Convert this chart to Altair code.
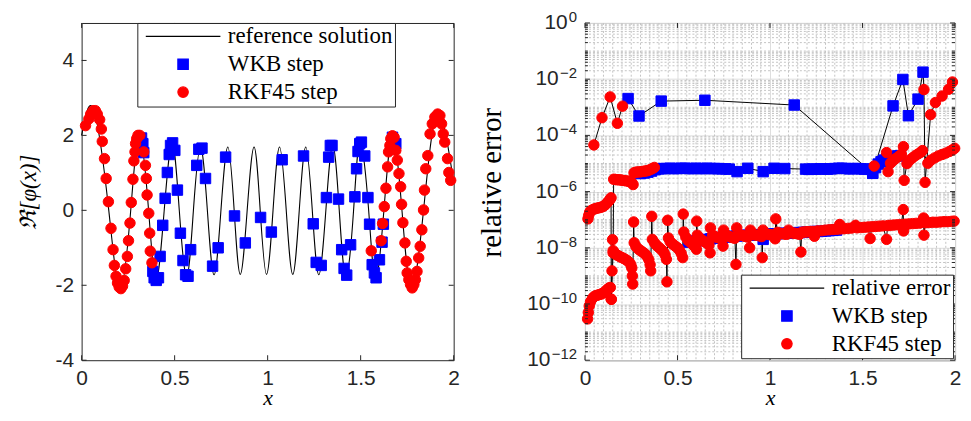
import altair as alt
import pandas as pd

# ---------------- left panel data ----------------
# reference solution: extrema / zero crossings of the curve
ref_x = [0.0, 0.065, 0.146, 0.208, 0.264, 0.311, 0.36, 0.401, 0.444, 0.487,
         0.525, 0.565, 0.601, 0.639, 0.676, 0.712, 0.749, 0.786, 0.82, 0.853,
         0.89, 0.927, 0.96, 0.994, 1.029, 1.064, 1.1, 1.135, 1.17, 1.205,
         1.24, 1.275, 1.313, 1.35, 1.385, 1.421, 1.462, 1.497, 1.543, 1.58,
         1.625, 1.671, 1.722, 1.773, 1.838, 1.912, 2.0]
ref_y = [2.0, 2.68, 0, -2.11, 0, 2.0, 0, -1.85, 0, 1.8,
         0, -1.76, 0, 1.68, 0, -1.72, 0, 1.69, 0, -1.71,
         0, 1.69, 0, -1.71, 0, 1.69, 0, -1.71, 0, 1.69,
         0, -1.72, 0, 1.73, 0, -1.76, 0, 1.82, 0, -1.85,
         0, 1.99, 0, -2.08, 0, 2.58, 0.75]

wkb_x = [0.322, 0.329, 0.334, 0.383, 0.39, 0.401, 0.413, 0.422, 0.436, 0.449,
         0.461, 0.471, 0.478, 0.489, 0.501, 0.515, 0.531, 0.545, 0.559, 0.572,
         0.586, 0.619, 0.63, 0.647, 0.666, 0.704, 0.734, 0.774, 0.822, 0.88,
         0.962, 1.02, 1.078, 1.193, 1.245, 1.261, 1.288, 1.316, 1.328, 1.337,
         1.346, 1.381, 1.398, 1.411, 1.425, 1.446, 1.469, 1.478, 1.486, 1.495,
         1.504, 1.522, 1.539, 1.548, 1.562, 1.574, 1.583, 1.601, 1.615, 1.622,
         1.671, 1.689]
wkb_y = [1.93, 1.78, 1.54, -1.63, -1.80, -1.87, -1.80, -1.23, -0.40, 0.32,
         1.01, 1.49, 1.73, 1.80, 1.60, 0.54, -0.61, -1.34, -1.72, -1.76,
         -1.05, 1.2, 1.63, 1.66, 0.85, -1.49, -1.0, 1.42, -0.15, -0.87,
         -0.19, -0.58, 1.35, 1.45, -0.36, -1.39, -1.47, 0.34, 1.42, 1.73,
         1.73, 0.3, -1.05, -1.55, -1.73, -0.92, 0.36, 1.11, 1.57, 1.78,
         1.82, 1.45, 0.34, -0.37, -1.45, -1.67, -1.8, -1.32, -0.85, -0.37,
         1.95, 1.78]

rkf_x = [0.021, 0.039, 0.049, 0.062, 0.074, 0.084, 0.097, 0.106, 0.111, 0.123,
         0.132, 0.144, 0.158, 0.169, 0.176, 0.185, 0.193, 0.202, 0.211, 0.22,
         0.229, 0.237, 0.246, 0.252, 0.26, 0.267, 0.276, 0.281, 0.287, 0.29,
         0.296, 0.303, 0.313, 0.334, 0.343, 0.348, 0.352, 0.361, 0.366, 0.369,
         0.378,
         1.557, 1.61, 1.618, 1.627, 1.636, 1.645, 1.65, 1.657, 1.662, 1.671,
         1.68, 1.689, 1.697, 1.706, 1.715, 1.72, 1.727, 1.738, 1.745, 1.75,
         1.759, 1.768, 1.777, 1.786, 1.794, 1.803, 1.812, 1.82, 1.829, 1.838,
         1.843, 1.85, 1.861, 1.873, 1.885, 1.899, 1.914, 1.926, 1.935, 1.944,
         1.952, 1.967, 1.974, 1.984]
rkf_y = [2.26, 2.44, 2.57, 2.66, 2.66, 2.57, 2.42, 2.17, 1.84, 1.38,
         0.85, 0.23, -0.48, -1.05, -1.47, -1.76, -1.94, -2.05, -2.09, -2.02,
         -1.87, -1.56, -1.23, -0.81, -0.34, 0.21, 0.83, 1.32, 1.56, 1.78,
         1.91, 2.0, 2.0, 1.56, 1.2, 0.85, 0.41, -0.08, -0.61, -1.09,
         -1.40,
         -1.08, -0.81, -0.35, 0.10, 0.59, 1.16, 1.56, 1.73, 1.91, 1.99,
         1.95, 1.60, 1.34, 0.98, 0.63, 0.16, -0.33, -0.87, -1.36, -1.67,
         -1.85, -1.98, -2.07, -1.98, -1.85, -1.63, -1.27, -0.96, -0.52, 0.01,
         0.54, 1.11, 1.46, 2.04, 2.31, 2.49, 2.57, 2.53, 2.31, 2.04,
         1.82, 1.38, 1.01, 0.8]

# ---------------- right panel data: log10(relative error) ----------------
top_x = [0.048, 0.092, 0.136, 0.175, 0.203, 0.233, 0.292, 0.412, 0.648, 1.131,
         1.555, 1.665, 1.718, 1.748, 1.80, 1.827, 1.832, 1.838, 1.868, 1.894,
         1.93, 1.965, 1.986]
top_log = [-4.34, -3.37, -2.63, -3.57, -2.96, -2.69, -3.31, -2.78, -2.75, -2.92,
           -5.35, -2.95, -2.01, -3.30, -2.71, -1.75, -2.37, -5.67, -3.26, -2.83,
           -2.6, -2.36, -2.1]
top_step = list("RRRRRWWWWWWWWWWWRRRRRRR")

mid_a_x = [0.016, 0.02, 0.025, 0.03, 0.04, 0.05, 0.06, 0.07, 0.08, 0.09,
           0.10, 0.11, 0.12, 0.128, 0.135, 0.141, 0.142, 0.152, 0.155, 0.165,
           0.175, 0.185, 0.195, 0.205, 0.215, 0.225, 0.235, 0.245, 0.253, 0.26,
           0.265, 0.275, 0.285, 0.295, 0.305, 0.315, 0.325, 0.335, 0.345, 0.355,
           0.365, 0.375]
mid_a_log = [-6.97, -6.85, -6.74, -6.69, -6.65, -6.62, -6.60, -6.58, -6.57, -6.55,
             -6.52, -6.47, -6.40, -6.34, -6.28, -6.22, -9.83, -8.18, -5.56, -5.57,
             -5.58, -5.58, -5.59, -5.60, -5.61, -5.62, -5.63, -5.65, -5.68, -5.75,
             -5.33, -5.31, -5.30, -5.30, -5.29, -5.28, -5.27, -5.26, -5.24, -5.21,
             -5.18, -5.14]

mid_w_x = [0.30, 0.32, 0.34, 0.36, 0.38, 0.40, 0.42, 0.44, 0.46, 0.48,
           0.50, 0.52, 0.54, 0.56, 0.58, 0.60, 0.62, 0.64, 0.66, 0.68,
           0.70, 0.72, 0.74, 0.76, 0.78, 0.822, 0.88, 0.963, 1.022, 1.08,
           1.192, 1.21, 1.23, 1.25, 1.27, 1.29, 1.31, 1.33, 1.35, 1.37,
           1.39, 1.41, 1.43, 1.45, 1.47, 1.49, 1.51, 1.53, 1.545, 1.555,
           1.57, 1.585, 1.60, 1.615, 1.63, 1.645, 1.66, 1.675, 1.69, 1.705]
mid_w_log = [-5.36, -5.34, -5.31, -5.27, -5.22, -5.19, -5.18, -5.18, -5.17, -5.18,
             -5.18, -5.17, -5.17, -5.18, -5.18, -5.17, -5.18, -5.18, -5.17, -5.18,
             -5.18, -5.18, -5.19, -5.19, -5.2, -5.29, -5.17, -5.29, -5.17, -5.18,
             -5.2, -5.21, -5.2, -5.2, -5.19, -5.19, -5.2, -5.19, -5.18, -5.17,
             -5.17, -5.18, -5.19, -5.18, -5.18, -5.19, -5.2, -5.2, -5.21, -5.35,
             -5.15, -5.02, -4.94, -4.88, -4.83, -4.79, -4.77, -4.75, -4.73, -4.72]

mid_b_x = [1.563, 1.63, 1.638, 1.651, 1.665, 1.68, 1.695, 1.71, 1.721, 1.725,
           1.74, 1.755, 1.77, 1.785, 1.80, 1.815, 1.824, 1.853, 1.87, 1.89,
           1.91, 1.93, 1.95, 1.97, 1.985, 1.998]
mid_b_log = [-5.09, -4.61, -5.29, -4.99, -4.90, -4.82, -4.75, -4.67, -4.40, -5.60,
             -5.00, -4.88, -4.80, -4.72, -4.66, -4.60, -4.54, -4.99, -4.88, -4.80,
             -4.73, -4.68, -4.63, -4.57, -4.52, -4.46]

low_x = [0.014, 0.018, 0.023, 0.030, 0.040, 0.050, 0.060, 0.070, 0.080, 0.090,
         0.100, 0.110, 0.120, 0.130, 0.137, 0.142, 0.146, 0.149, 0.152, 0.160,
         0.170, 0.180, 0.190, 0.200, 0.210, 0.220, 0.230, 0.240, 0.248, 0.253,
         0.256, 0.258, 0.263, 0.266, 0.275, 0.285, 0.295, 0.305, 0.315, 0.325,
         0.335, 0.345, 0.352, 0.355, 0.361, 0.364, 0.375, 0.385, 0.395, 0.405,
         0.415, 0.425, 0.433, 0.440, 0.443, 0.447, 0.451, 0.460, 0.470, 0.480,
         0.490, 0.500, 0.510, 0.520, 0.528, 0.531, 0.534, 0.545, 0.555, 0.565,
         0.575, 0.585, 0.595, 0.602, 0.604, 0.607, 0.620, 0.630, 0.640, 0.650,
         0.660, 0.670, 0.676, 0.678, 0.690, 0.700, 0.710, 0.720, 0.730, 0.740,
         0.746, 0.749, 0.760, 0.770, 0.780, 0.790, 0.800, 0.810, 0.816, 0.820,
         0.830, 0.840, 0.850, 0.860, 0.870, 0.880, 0.890, 0.894, 0.905, 0.915,
         0.925, 0.935, 0.945, 0.955, 0.958, 0.962, 0.975, 0.990, 1.000, 1.010,
         1.020, 1.028, 1.031, 1.040, 1.050, 1.060, 1.070, 1.080, 1.090, 1.100,
         1.110, 1.120, 1.130, 1.140, 1.150, 1.160, 1.167, 1.171, 1.180, 1.190,
         1.200, 1.210, 1.220, 1.230, 1.240, 1.250, 1.26, 1.28, 1.30, 1.32,
         1.34, 1.36, 1.377, 1.38, 1.40, 1.42, 1.44, 1.462, 1.47, 1.49,
         1.51, 1.53, 1.541, 1.55, 1.57, 1.59, 1.61, 1.63, 1.635, 1.65,
         1.67, 1.69, 1.71, 1.72, 1.722, 1.73, 1.75, 1.77, 1.79, 1.81,
         1.83, 1.832, 1.84, 1.86, 1.88, 1.90, 1.92, 1.94, 1.96, 1.98,
         1.995]
low_log = [-10.53, -10.30, -10.07, -9.92, -9.80, -9.73, -9.70, -9.68, -9.66, -9.64,
           -9.60, -9.55, -9.48, -9.43, -9.41, -9.83, -8.82, -7.71, -8.10, -8.18,
           -8.25, -8.28, -8.32, -8.35, -8.38, -8.42, -8.46, -8.52, -8.60, -8.72,
           -9.00, -9.29, -7.08, -7.82, -7.95, -8.02, -8.08, -8.12, -8.17, -8.22,
           -8.30, -8.42, -8.60, -8.82, -6.88, -7.70, -7.82, -7.90, -7.96, -8.02,
           -8.08, -8.15, -8.25, -8.41, -9.21, -7.02, -7.65, -7.78, -7.85, -7.90,
           -7.95, -8.00, -8.08, -8.20, -8.35, -6.80, -7.44, -7.62, -7.72, -7.78,
           -7.84, -7.90, -7.96, -8.05, -7.05, -7.55, -7.66, -7.72, -7.76, -7.80,
           -7.84, -7.90, -8.18, -7.29, -7.55, -7.60, -7.62, -7.64, -7.66, -7.70,
           -7.94, -7.37, -7.55, -7.57, -7.60, -7.62, -7.64, -7.66, -8.59, -7.29,
           -7.52, -7.54, -7.56, -7.58, -7.60, -7.62, -8.00, -7.37, -7.52, -7.54,
           -7.55, -7.56, -7.58, -7.60, -8.35, -7.37, -7.50, -7.52, -7.53, -7.55,
           -7.58, -7.68, -6.97, -7.45, -7.48, -7.49, -7.50, -7.51, -7.52, -7.37,
           -7.46, -7.47, -7.48, -7.49, -7.50, -7.52, -8.15, -7.45, -7.44, -7.44,
           -7.43, -7.43, -7.42, -7.42, -7.59, -7.41, -7.40, -7.39, -7.37, -7.36,
           -7.35, -7.34, -7.17, -7.33, -7.32, -7.31, -7.30, -7.20, -7.29, -7.28,
           -7.27, -7.26, -7.67, -7.25, -7.24, -7.23, -7.22, -7.70, -7.21, -7.20,
           -7.19, -7.18, -7.17, -6.64, -7.40, -7.16, -7.15, -7.14, -7.13, -7.12,
           -6.94, -7.55, -7.11, -7.10, -7.09, -7.09, -7.08, -7.07, -7.07, -7.06,
           -7.05]

low_w_x = [0.56, 0.58, 0.60, 0.62, 0.64, 0.66, 0.68, 0.70, 0.72, 0.74,
           0.76, 0.78, 0.80, 0.82, 0.84, 0.86, 0.88, 0.90, 0.92, 0.94,
           0.963, 0.98, 1.00, 1.02, 1.04, 1.06, 1.08, 1.10, 1.12, 1.14,
           1.16, 1.18, 1.20, 1.22, 1.24, 1.26, 1.28, 1.30, 1.32, 1.34, 1.36]
low_w_log = [-7.80, -7.78, -7.76, -7.74, -7.72, -7.70, -7.68, -7.66, -7.64, -7.63,
             -7.62, -7.60, -7.59, -7.58, -7.57, -7.56, -7.55, -7.55, -7.54, -7.54,
             -7.70, -7.52, -7.51, -7.50, -7.50, -7.49, -7.48, -7.48, -7.47, -7.46,
             -7.46, -7.45, -7.44, -7.43, -7.42, -7.42, -7.41, -7.40, -7.39, -7.38, -7.37]

# ---------------- axes ----------------
x_ticks = [0, 0.5, 1, 1.5, 2]
phi_ticks = [-4, -2, 0, 2, 4]
err_ticks = [1e-12, 1e-10, 1e-8, 1e-6, 1e-4, 1e-2, 1.0]
err_exp = ["−12", "−10", "−8", "−6", "−4", "−2", "0"]
err_minor = [m * 10.0 ** k for k in range(-12, 0) for m in range(1, 10)
             if not (m == 1 and k % 2 == 0)]
x_minor = [i / 20 for i in range(1, 40) if i % 10 != 0]

LW, RW, H = 374, 372, 339
AX = "#262626"
SANS = "Liberation Sans"
SERIF = "Liberation Serif"
LINE_SYM = "M-7.15,0H7.15"
LABELS = {"W": "WKB step", "R": "RKF45 step"}

xscale = alt.Scale(domain=[0, 2], nice=False, zero=False)
yscale_l = alt.Scale(domain=[-4, 5], nice=False, zero=False)
yscale_r = alt.Scale(type="log", domain=[1e-12, 1], nice=False)


def x_axis(grid):
    return alt.Axis(values=x_ticks, format="~g", title="x", titleFont=SERIF,
                    titleFontStyle="italic", titleFontWeight="normal", titleFontSize=22,
                    titleColor="black", titlePadding=0, labelFont=SANS, labelFontSize=21,
                    labelColor=AX, labelPadding=7, ticks=False, domain=False,
                    labelFlush=False, labelOverlap=False, grid=grid, gridColor="#dedede")


xa_l = x_axis(False)
xa_r = x_axis(True)

ya_l = alt.Axis(values=phi_ticks, format="~g", labelExpr="replace(datum.label, '−', '-')",
                title="ℜ[φ(x)]", titleFont=SERIF, titleFontStyle="italic",
                titleFontWeight="normal", titleFontSize=23, titleColor="black",
                titlePadding=15, labelFont=SANS, labelFontSize=21, labelColor=AX,
                labelPadding=8, ticks=False, domain=False, grid=False, labelOverlap=False)

ya_r = alt.Axis(values=err_ticks, labels=False,
                title="relative error", titleFont=SERIF, titleFontWeight="normal",
                titleFontSize=29, titleColor="black", titlePadding=79, titleY=160,
                ticks=False, domain=False, grid=True, gridColor="#dedede")


def legend(x, y):
    return alt.Legend(orient="none", legendX=x, legendY=y, title=None, fillColor="white",
                      strokeColor=AX, padding=2, labelFont=SERIF, labelFontSize=23,
                      labelColor="black", symbolSize=110, symbolStrokeWidth=1.2,
                      symbolOffset=32.5, labelOffset=33.5, rowPadding=4, symbolOpacity=1,
                      labelLimit=400)


def point_layer(df, ycol, yscale, xa, ya, domain, lg):
    colors = ["black", "#0000ff", "#ff0000"]
    return alt.Chart(df).mark_point(filled=True, size=110, strokeWidth=1, opacity=1).encode(
        x=alt.X("x:Q", scale=xscale, axis=xa),
        y=alt.Y(f"{ycol}:Q", scale=yscale, axis=ya),
        fill=alt.Fill("step:N", scale=alt.Scale(domain=domain, range=colors), legend=lg),
        stroke=alt.Stroke("step:N", scale=alt.Scale(domain=domain, range=colors), legend=lg),
        shape=alt.Shape("step:N", scale=alt.Scale(domain=domain, range=[LINE_SYM, "square", "circle"]), legend=lg),
    )


def tick_layers(xvals, yvals, ycol, yscale, xa, ya, W, length):
    out = []
    dx = pd.DataFrame({"x": xvals})
    dy = pd.DataFrame({ycol: yvals})
    out.append(alt.Chart(dx).mark_rule(color=AX, strokeWidth=1).encode(
        x=alt.X("x:Q", scale=xscale, axis=xa), y=alt.value(H), y2=alt.value(H - length)))
    out.append(alt.Chart(dx).mark_rule(color=AX, strokeWidth=1).encode(
        x=alt.X("x:Q", scale=xscale, axis=xa), y=alt.value(0), y2=alt.value(length)))
    out.append(alt.Chart(dy).mark_rule(color=AX, strokeWidth=1).encode(
        y=alt.Y(f"{ycol}:Q", scale=yscale, axis=ya), x=alt.value(0), x2=alt.value(length)))
    out.append(alt.Chart(dy).mark_rule(color=AX, strokeWidth=1).encode(
        y=alt.Y(f"{ycol}:Q", scale=yscale, axis=ya), x=alt.value(W), x2=alt.value(W - length)))
    return out


# ---------------- left panel ----------------
curve_df = pd.DataFrame({"x": ref_x, "y": ref_y})
left_pts = pd.DataFrame({
    "x": wkb_x + rkf_x,
    "y": wkb_y + rkf_y,
    "step": ["WKB step"] * len(wkb_x) + ["RKF45 step"] * len(rkf_x),
})

curve = alt.Chart(curve_df).mark_line(color="black", strokeWidth=1.1, interpolate="natural").encode(
    x=alt.X("x:Q", scale=xscale, axis=xa_l),
    y=alt.Y("y:Q", scale=yscale_l, axis=ya_l),
)
left = alt.layer(
    curve,
    point_layer(left_pts, "y", yscale_l, xa_l, ya_l,
                ["reference solution", "WKB step", "RKF45 step"], legend(56, 0)),
    *tick_layers(x_ticks, phi_ticks, "y", yscale_l, xa_l, ya_l, LW, 5),
).properties(width=LW, height=H)


# ---------------- right panel ----------------
def seg(xs, logs, steps, name):
    return pd.DataFrame({
        "x": xs,
        "err": [10.0 ** v for v in logs],
        "step": [LABELS[s] for s in steps],
        "series": name,
        "seq": list(range(len(xs))),
    })


err_df = pd.concat([
    seg(top_x, top_log, top_step, "top"),
    seg(mid_a_x, mid_a_log, ["R"] * len(mid_a_x), "mid_a"),
    seg(mid_w_x, mid_w_log, ["W"] * len(mid_w_x), "mid_w"),
    seg(mid_b_x, mid_b_log, ["R"] * len(mid_b_x), "mid_b"),
    seg(low_x, low_log, ["R"] * len(low_x), "low"),
    seg(low_w_x, low_w_log, ["W"] * len(low_w_x), "low_w"),
], ignore_index=True)
err_pts = pd.concat([err_df[err_df.step == "WKB step"], err_df[err_df.step == "RKF45 step"]],
                    ignore_index=True)

minor_h = alt.Chart(pd.DataFrame({"err": err_minor})).mark_rule(
    color="#c4c4c4", strokeWidth=1, strokeDash=[2, 2]).encode(
    y=alt.Y("err:Q", scale=yscale_r, axis=ya_r), x=alt.value(0), x2=alt.value(RW))
minor_v = alt.Chart(pd.DataFrame({"x": x_minor})).mark_rule(
    color="#c4c4c4", strokeWidth=1, strokeDash=[2, 2]).encode(
    x=alt.X("x:Q", scale=xscale, axis=xa_r), y=alt.value(0), y2=alt.value(H))

err_line = alt.Chart(err_df).mark_line(color="black", strokeWidth=1).encode(
    x=alt.X("x:Q", scale=xscale, axis=xa_r),
    y=alt.Y("err:Q", scale=yscale_r, axis=ya_r),
    detail="series:N",
    order="seq:Q",
)
minor_ticks_r = alt.Chart(pd.DataFrame({"err": err_minor})).mark_rule(color=AX, strokeWidth=1).encode(
    y=alt.Y("err:Q", scale=yscale_r, axis=ya_r), x=alt.value(0), x2=alt.value(3))
minor_ticks_r2 = alt.Chart(pd.DataFrame({"err": err_minor})).mark_rule(color=AX, strokeWidth=1).encode(
    y=alt.Y("err:Q", scale=yscale_r, axis=ya_r), x=alt.value(RW), x2=alt.value(RW - 3))

# tick labels of the log axis: "10" with a raised exponent
ylab = alt.Chart(pd.DataFrame({"err": err_ticks, "e": err_exp})).transform_calculate(
    ew="(indexof(datum.e, '−') == 0 ? 9 : 0) + (length(datum.e) - (indexof(datum.e, '−') == 0 ? 1 : 0)) * 8.4",
    lx="-9 - datum.ew",
)
ten_lab = ylab.mark_text(align="right", baseline="middle", font=SANS, fontSize=21, color=AX).encode(
    y=alt.Y("err:Q", scale=yscale_r, axis=ya_r),
    x=alt.X("lx:Q", scale=None, axis=None),
    text=alt.value("10"),
)
exp_lab = ylab.mark_text(align="right", baseline="middle", font=SANS, fontSize=15, color=AX, dy=-6).encode(
    y=alt.Y("err:Q", scale=yscale_r, axis=ya_r),
    x=alt.value(-8),
    text="e:N",
)

right = alt.layer(
    minor_h, minor_v, err_line,
    point_layer(err_pts, "err", yscale_r, xa_r, ya_r,
                ["relative error", "WKB step", "RKF45 step"], legend(157, 253)),
    *tick_layers(x_ticks, err_ticks, "err", yscale_r, xa_r, ya_r, RW, 5),
    minor_ticks_r, minor_ticks_r2, ten_lab, exp_lab,
).properties(width=RW, height=H)

chart = alt.hconcat(left, right, spacing=16).resolve_scale(
    fill="independent", stroke="independent", shape="independent"
).resolve_legend(fill="independent", stroke="independent", shape="independent").properties(
    padding={"left": 8, "top": 0, "right": 0, "bottom": 0},
    background="white",
).configure_view(stroke=AX, strokeWidth=1)

chart.save("out.html", embed_options={"renderer": "svg", "actions": False})
